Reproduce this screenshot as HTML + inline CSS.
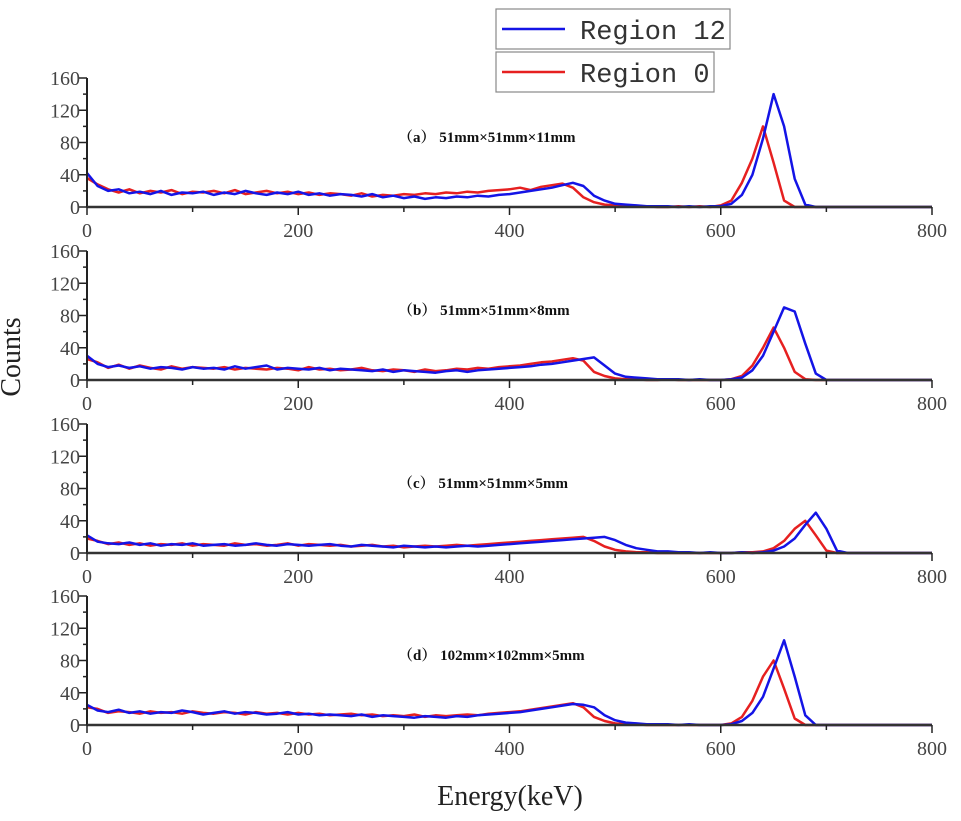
<!DOCTYPE html>
<html><head><meta charset="utf-8">
<style>
body{margin:0;background:#fff;}
svg text{font-family:"Liberation Serif","Noto Serif CJK SC",serif;}
</style></head>
<body>
<svg id="chart" width="961" height="816" viewBox="0 0 961 816" xmlns="http://www.w3.org/2000/svg">
<g id="panels"></g>
<g>
<rect x="496" y="9" width="234" height="40" fill="#fff" stroke="#888" stroke-width="1.2"/>
<line x1="502" y1="29" x2="565" y2="29" stroke="#1414e6" stroke-width="2.5"/>
<text x="580" y="39" font-size="27" fill="#333" style="font-family:'Liberation Mono',monospace">Region 12</text>
<rect x="496" y="52" width="218" height="40" fill="#fff" stroke="#888" stroke-width="1.2"/>
<line x1="502" y1="72" x2="565" y2="72" stroke="#e62020" stroke-width="2.5"/>
<text x="580" y="82" font-size="27" fill="#333" style="font-family:'Liberation Mono',monospace">Region 0</text>
</g>
<text transform="translate(20,357) rotate(-90)" text-anchor="middle" font-size="28" fill="#222">Counts</text>
<text x="510" y="805" text-anchor="middle" font-size="28" fill="#222">Energy(keV)</text>
</svg>
<script>
// energies sampled every 10 keV from 0 to 800
const energyStep = 10;
const xTicks = [0, 200, 400, 600, 800];
const yTicks = [0, 40, 80, 120, 160];
const panelTitles = ["（a） 51mm×51mm×11mm", "（b） 51mm×51mm×8mm", "（c） 51mm×51mm×5mm", "（d） 102mm×102mm×5mm"];
const blueA = [42,26,20,22,17,19,16,20,15,18,17,19,15,18,16,20,17,15,18,16,19,15,17,14,16,15,13,16,12,14,11,13,10,12,11,13,12,14,13,15,16,18,20,22,24,27,30,26,14,8,4,3,2,1,1,1,0,1,0,1,1,4,15,40,85,140,100,35,3,0,0,0,0,0,0,0,0,0,0,0,0];
const redA  = [36,28,22,18,22,17,20,18,21,16,19,18,20,17,21,16,18,20,17,19,16,18,15,17,16,14,17,13,15,14,16,15,17,16,18,17,19,18,20,21,22,24,21,25,27,29,24,12,6,3,2,1,1,1,0,0,1,0,1,0,2,8,30,60,100,55,8,0,0,0,0,0,0,0,0,0,0,0,0,0,0];
const blueB = [30,20,16,18,15,17,14,16,15,13,16,14,15,13,17,14,16,18,13,15,14,13,15,12,14,13,12,11,13,10,12,11,10,9,11,12,10,12,13,14,15,16,17,19,20,22,24,26,28,18,8,4,3,2,1,1,1,0,1,0,0,1,3,12,30,60,90,85,45,8,0,0,0,0,0,0,0,0,0,0,0];
const redB  = [26,22,15,19,14,18,15,13,17,14,16,15,14,16,13,15,14,13,15,14,12,16,13,14,12,13,15,12,11,13,12,10,13,11,12,14,13,15,14,16,17,18,20,22,23,25,27,24,10,5,2,1,1,0,0,1,0,0,0,0,0,1,5,18,40,65,40,10,1,0,0,0,0,0,0,0,0,0,0,0,0];
const blueC = [22,14,12,11,13,10,12,9,11,10,12,9,10,11,9,10,12,10,9,11,10,9,10,11,9,8,10,9,8,7,9,8,7,8,7,8,9,8,9,10,11,12,13,14,15,16,17,18,19,20,16,10,6,4,2,2,1,1,0,1,0,0,1,0,1,3,8,18,35,50,30,3,0,0,0,0,0,0,0,0,0];
const redC  = [18,15,11,13,10,12,9,11,10,12,9,11,10,9,12,10,11,9,10,12,9,11,10,9,10,8,9,10,8,9,7,8,9,8,9,10,9,10,11,12,13,14,15,16,17,18,19,20,15,8,4,2,1,1,0,0,0,0,0,0,0,0,1,1,2,6,15,30,40,22,3,0,0,0,0,0,0,0,0,0,0];
const blueD = [25,18,16,19,15,17,14,16,15,18,16,13,15,17,14,16,15,13,14,16,13,14,12,13,12,11,13,10,12,11,10,9,11,10,9,11,10,12,13,14,15,16,18,20,22,24,26,25,22,12,6,3,2,1,1,1,0,1,0,0,0,1,5,15,35,70,105,60,12,0,0,0,0,0,0,0,0,0,0,0,0];
const redD  = [22,20,15,17,16,14,17,15,16,14,17,15,14,16,15,13,16,14,15,13,15,13,14,12,13,14,12,13,11,12,11,13,10,12,11,12,13,12,14,15,16,17,19,21,23,25,27,22,10,5,2,1,1,0,0,0,0,0,0,0,0,2,10,30,60,80,45,8,0,0,0,0,0,0,0,0,0,0,0,0,0];
const blueSeries = [blueA, blueB, blueC, blueD];
const redSeries = [redA, redB, redC, redD];

const NS = "http://www.w3.org/2000/svg";
const baseY = [207, 380, 553, 725];
const xLeft = 87, xRight = 932, yHeight = 129;
function xScale(e){ return xLeft + e / 800 * (xRight - xLeft); }
function yScale(v, p){ return baseY[p] - v / 160 * yHeight; }
function mk(tag, attrs){ const el = document.createElementNS(NS, tag); for (const k in attrs) el.setAttribute(k, attrs[k]); return el; }
const root = document.getElementById("panels");
for (let p = 0; p < 4; p++) {
  const g = mk("g", {});
  
  
  root.appendChild(g);
  const b = baseY[p];
  [[redSeries[p], "#e62020", "region-0"], [blueSeries[p], "#1414e6", "region-12"]].forEach(([arr, col, nm]) => {
    let pts = arr.map((v, i) => xScale(i * energyStep).toFixed(1) + "," + yScale(v, p).toFixed(1)).join(" ");
    const pl = mk("polyline", {points: pts, fill: "none", stroke: col, "stroke-width": 2.5, "stroke-linejoin": "round"});
    
    
    g.appendChild(pl);
  });
  const ya = mk("line", {x1: xLeft, y1: yScale(160, p), x2: xLeft, y2: b, stroke: "#222", "stroke-width": 2});
  
  
  g.appendChild(ya);
  const xa = mk("line", {x1: xLeft, y1: b, x2: xRight, y2: b, stroke: "#333", "stroke-width": 2.5});
  
  
  g.appendChild(xa);
  for (let v = 0; v <= 160; v += 20) {
    const major = yTicks.includes(v);
    g.appendChild(mk("line", {x1: xLeft - (major ? 8 : 4), y1: yScale(v, p), x2: xLeft, y2: yScale(v, p), stroke: "#222", "stroke-width": 1.5}));
  }
  yTicks.forEach(v => {
    const t = mk("text", {x: 80, y: yScale(v, p) + 7, "text-anchor": "end", "font-size": 20, fill: "#444"});
    
    
    t.textContent = v; g.appendChild(t);
  });
  for (let e = 0; e <= 800; e += 100) {
    const major = xTicks.includes(e);
    g.appendChild(mk("line", {x1: xScale(e), y1: b, x2: xScale(e), y2: b + (major ? 8 : 5), stroke: "#222", "stroke-width": 1.5}));
  }
  xTicks.forEach(e => {
    const t = mk("text", {x: xScale(e), y: b + 30, "text-anchor": "middle", "font-size": 20, fill: "#444"});
    
    
    t.textContent = e; g.appendChild(t);
  });
  const tt = mk("text", {x: 398, y: b - 65, "font-size": 15, "font-weight": "bold", fill: "#111"});
  
  
  tt.textContent = panelTitles[p]; g.appendChild(tt);
}
</script>
</body></html>
